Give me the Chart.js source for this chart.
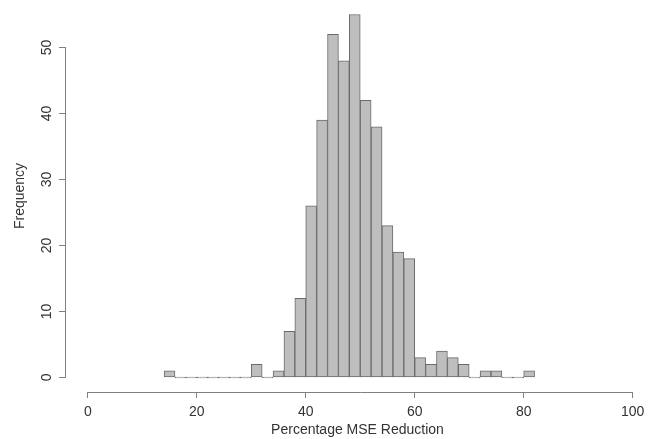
<!DOCTYPE html>
<html lang="en">
<head>
<meta charset="UTF-8">
<title>Percentage MSE Reduction</title>
<script src="https://cdn.jsdelivr.net/npm/chart.js"></script>
<style>
  html, body { margin: 0; padding: 0; background: #fff; overflow: hidden; }
  canvas { display: block; }
</style>
</head>
<body>
<canvas id="hist" width="649" height="439"></canvas>
<script>
// bin left edges (width 2) and counts
const binStarts = [14, 16, 18, 20, 22, 24, 26, 28, 30, 32, 34, 36, 38, 40, 42, 44, 46, 48,
                   50, 52, 54, 56, 58, 60, 62, 64, 66, 68, 70, 72, 74, 76, 78, 80];
const counts    = [1, 0, 0, 0, 0, 0, 0, 0, 2, 0, 1, 7, 12, 26, 39, 52, 48, 55,
                   42, 38, 23, 19, 18, 3, 2, 4, 3, 2, 0, 1, 1, 0, 0, 1];
const binWidth = 2;
const xTicks = [0, 20, 40, 60, 80, 100];
const yTicks = [0, 10, 20, 30, 40, 50];

const textColor = '#333333';
const axisColor = '#808080';
const font = { family: 'Liberation Sans, Arial, sans-serif', size: 14 };

// R style axis lines that only run from first to last tick
const axisLines = {
  id: 'axisLines',
  afterDraw(chart) {
    const ctx = chart.ctx;
    const x = chart.scales.x, y = chart.scales.y;
    ctx.save();
    ctx.strokeStyle = axisColor;
    ctx.lineWidth = 1;
    ctx.beginPath();
    ctx.moveTo(x.getPixelForValue(xTicks[0]), x.top + 0.5);
    ctx.lineTo(x.getPixelForValue(xTicks[xTicks.length - 1]), x.top + 0.5);
    ctx.moveTo(y.right - 0.5, y.getPixelForValue(yTicks[0]));
    ctx.lineTo(y.right - 0.5, y.getPixelForValue(yTicks[yTicks.length - 1]));
    ctx.stroke();
    ctx.restore();
  }
};

new Chart(document.getElementById('hist'), {
  type: 'bar',
  data: {
    datasets: [{
      data: binStarts.map((s, i) => ({ x: s + binWidth / 2, y: counts[i] })),
      backgroundColor: '#bebebe',
      borderColor: '#6a6a6a',
      borderWidth: 1,
      borderSkipped: false,
      minBarLength: 1,
      barPercentage: 1,
      categoryPercentage: 1,
      grouped: false
    }]
  },
  plugins: [axisLines],
  options: {
    responsive: false,
    animation: false,
    layout: { padding: 0 },
    plugins: { legend: { display: false }, tooltip: { enabled: false } },
    scales: {
      x: {
        type: 'linear',
        offset: false,
        min: -4,
        max: 103,
        afterBuildTicks: s => { s.ticks = xTicks.map(v => ({ value: v })); },
        afterFit: s => { s.height = 47; s.paddingLeft = 0; s.paddingRight = 0; },
        border: { display: false },
        grid: { drawOnChartArea: false, offset: false, color: axisColor, tickLength: 6 },
        ticks: { color: textColor, font: font, padding: 6, maxRotation: 0, autoSkip: false },
        title: { display: true, text: 'Percentage MSE Reduction', color: textColor, font: font, padding: { top: 0, bottom: 0 } }
      },
      y: {
        min: -2.2,
        max: 57.2,
        afterBuildTicks: s => { s.ticks = yTicks.map(v => ({ value: v })); },
        afterFit: s => { s.width = 66; s.paddingTop = 0; s.paddingBottom = 0; },
        border: { display: false },
        grid: { drawOnChartArea: false, color: axisColor, tickLength: 7 },
        ticks: { color: textColor, font: font, padding: 4, minRotation: 90, maxRotation: 90, crossAlign: 'center' },
        title: { display: true, text: 'Frequency', color: textColor, font: font, padding: { top: 12, bottom: 0 } }
      }
    }
  }
});
</script>
</body>
</html>
